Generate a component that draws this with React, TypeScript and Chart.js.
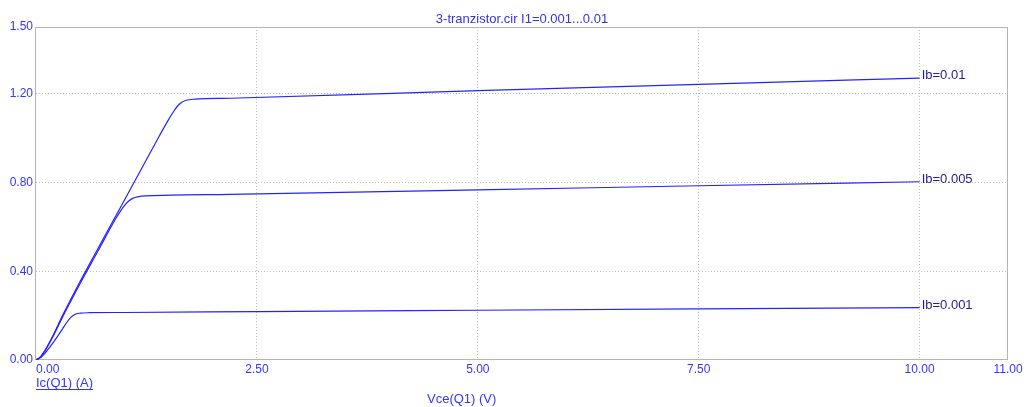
import React, { useEffect, useRef } from 'react';
import { Chart, registerables } from 'chart.js';

Chart.register(...registerables);

const TITLE = '3-tranzistor.cir I1=0.001...0.01';
const X_TITLE = 'Vce(Q1) (V)';
const Y_TITLE = 'Ic(Q1) (A)';

const X_TICKS = [0, 2.5, 5, 7.5, 10, 11];
const Y_TICKS = [0, 0.4, 0.8, 1.2, 1.5];

const SERIES_LABELS = ['Ib=0.01', 'Ib=0.005', 'Ib=0.001'];

const vce010 = [0, 0.05, 0.1, 0.15, 0.2, 0.3, 0.5, 0.8, 1.1, 1.4, 1.5, 1.55, 1.6, 1.65, 1.7, 1.8, 2.2, 5, 7.5, 10];
const ic010 = [0, 0.014, 0.042, 0.077, 0.116, 0.2, 0.355, 0.574, 0.793, 1.012, 1.083, 1.115, 1.143, 1.161, 1.170, 1.175, 1.179, 1.213, 1.242, 1.27];

const vce005 = [0, 0.05, 0.1, 0.15, 0.2, 0.3, 0.5, 0.7, 0.9, 0.95, 1.0, 1.05, 1.1, 1.15, 1.25, 2.2, 5, 7.5, 10];
const ic005 = [0, 0.013, 0.04, 0.074, 0.112, 0.193, 0.345, 0.49, 0.635, 0.667, 0.695, 0.716, 0.729, 0.735, 0.739, 0.746, 0.766, 0.785, 0.803];

const vce001 = [0, 0.05, 0.1, 0.15, 0.2, 0.25, 0.3, 0.35, 0.4, 0.45, 0.5, 0.6, 1, 2.5, 5, 7.5, 10];
const ic001 = [0, 0.01, 0.03, 0.055, 0.082, 0.11, 0.14, 0.17, 0.194, 0.207, 0.211, 0.213, 0.214, 0.218, 0.224, 0.23, 0.236];

const FONT = "'Liberation Sans', Arial, sans-serif";
const TICK_COLOR = '#3434ff';
const LINE_COLOR = '#2323ff';
const LABEL_COLOR = '#1e1e8c';
const GRID_COLOR = '#bdbdbd';
const FRAME_COLOR = '#b4b4b4';

function toPoints(xs: number[], ys: number[]) {
  return xs.map((x, i) => ({ x, y: ys[i] }));
}

const overlayPlugin = {
  id: 'overlay',
  beforeDatasetsDraw(chart: any) {
    const { ctx, chartArea } = chart;
    const { left, top, right, bottom } = chartArea;
    ctx.save();
    ctx.strokeStyle = FRAME_COLOR;
    ctx.lineWidth = 1;
    ctx.strokeRect(Math.round(left) - 0.5, Math.round(top) + 0.5, Math.round(right - left), Math.round(bottom - top) - 1);
    ctx.restore();
  },
  afterDraw(chart: any) {
    const { ctx, chartArea, scales } = chart;
    const { left, right } = chartArea;
    ctx.save();
    ctx.font = `13px ${FONT}`;
    ctx.textBaseline = 'alphabetic';

    // title
    ctx.fillStyle = '#3434dc';
    ctx.textAlign = 'center';
    ctx.fillText(TITLE, (left + right) / 2, 23);

    // y title (underlined)
    ctx.fillStyle = TICK_COLOR;
    ctx.textAlign = 'left';
    ctx.fillText(Y_TITLE, 36, 387);
    const w = ctx.measureText(Y_TITLE).width;
    ctx.fillRect(36, 389, w, 1);

    // x title
    ctx.fillText(X_TITLE, 427, 403);

    // curve labels
    ctx.fillStyle = LABEL_COLOR;
    chart.data.datasets.forEach((ds: any, i: number) => {
      const last = ds.data[ds.data.length - 1];
      const px = scales.x.getPixelForValue(last.x) + 2;
      const py = scales.y.getPixelForValue(last.y) + 1;
      ctx.fillText(SERIES_LABELS[i], px, py);
    });
    ctx.restore();
  },
};

export default function App() {
  const canvasRef = useRef<HTMLCanvasElement | null>(null);

  useEffect(() => {
    const canvas = canvasRef.current;
    if (!canvas) return;
    const series = [
      toPoints(vce010, ic010),
      toPoints(vce005, ic005),
      toPoints(vce001, ic001),
    ];
    const xTickValues = [...X_TICKS, X_TICKS[X_TICKS.length - 1]];
    const chart = new Chart(canvas, {
      type: 'scatter',
      data: {
        datasets: series.map((data, i) => ({
          label: SERIES_LABELS[i],
          data,
          showLine: true,
          borderColor: LINE_COLOR,
          borderWidth: 1.2,
          pointRadius: 0,
          pointHoverRadius: 0,
          cubicInterpolationMode: 'monotone' as const,
          fill: false,
        })),
      },
      options: {
        responsive: false,
        animation: false,
        devicePixelRatio: 1,
        layout: { padding: { top: 27, right: 22, left: 0, bottom: 0 } },
        plugins: {
          legend: { display: false },
          title: { display: false },
          tooltip: { enabled: false },
        },
        scales: {
          x: {
            type: 'linear',
            min: 0,
            max: 11,
            afterBuildTicks: (scale: any) => {
              scale.ticks = xTickValues.map((v) => ({ value: v }));
            },
            afterFit: (scale: any) => {
              scale.height = 47;
            },
            ticks: {
              autoSkip: false,
              maxRotation: 0,
              align: 'inner',
              padding: 2,
              color: TICK_COLOR,
              font: { family: FONT, size: 12 },
              callback: (_v: any, index: number) =>
                index < X_TICKS.length ? X_TICKS[index].toFixed(2) : '',
            },
            grid: {
              drawTicks: false,
              color: (ctx: any) => {
                const v = ctx.tick ? ctx.tick.value : 0;
                return v === 0 || v === 11 ? 'rgba(0,0,0,0)' : GRID_COLOR;
              },
            },
            border: { display: false, dash: [1, 2] },
          },
          y: {
            type: 'linear',
            min: 0,
            max: 1.5,
            afterBuildTicks: (scale: any) => {
              scale.ticks = Y_TICKS.map((v) => ({ value: v }));
            },
            afterFit: (scale: any) => {
              scale.width = 36;
            },
            ticks: {
              autoSkip: false,
              padding: 3,
              color: TICK_COLOR,
              font: { family: FONT, size: 12 },
              callback: (v: any) => Number(v).toFixed(2),
            },
            grid: {
              drawTicks: false,
              color: (ctx: any) => {
                const v = ctx.tick ? ctx.tick.value : 0;
                return v === 0 || v === 1.5 ? 'rgba(0,0,0,0)' : GRID_COLOR;
              },
            },
            border: { display: false, dash: [1, 2] },
          },
        },
      },
      plugins: [overlayPlugin],
    });
    return () => chart.destroy();
  }, []);

  return (
    <div style={{ position: 'fixed', left: 0, top: 0, width: 1030, height: 407, background: '#fff' }}>
      <canvas ref={canvasRef} width={1030} height={407} style={{ width: 1030, height: 407, display: 'block' }} />
    </div>
  );
}
